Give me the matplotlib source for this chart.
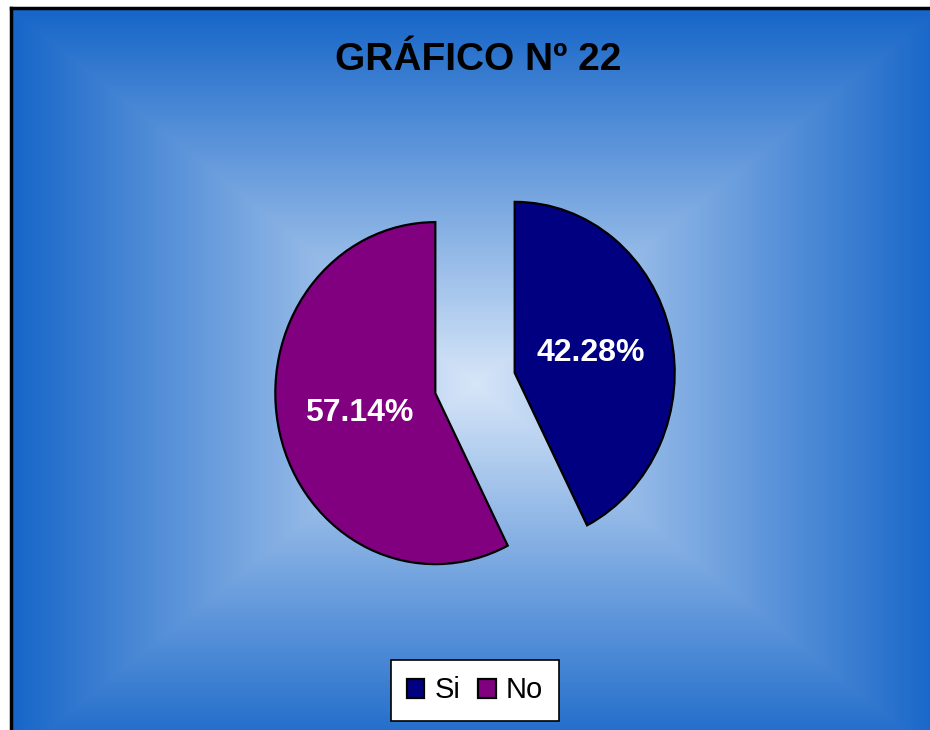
import matplotlib
matplotlib.use('Agg')
import matplotlib.pyplot as plt
import numpy as np

# Données du graphique
categorias = ['Si', 'No']
valores = [42.28, 57.14]
etiquetas = ['42.28%', '57.14%']
colores = ['#000080', '#800080']
titulo = 'GRÁFICO Nº 22'

plt.rcParams['font.family'] = ['Liberation Sans', 'DejaVu Sans']

W, H = 930, 730
fig = plt.figure(figsize=(W / 100, H / 100), dpi=100)
fig.patch.set_facecolor('white')

# Fond en dégradé rectangulaire (clair au centre, bleu sur les bords)
ax_bg = fig.add_axes([11 / W, 0, 1 - 11 / W, (H - 8) / H])
ax_bg.set_axis_off()
xs = np.arange(11, W) + 0.5
ys = np.arange(8, H) + 0.5
X, Y = np.meshgrid(xs, ys)
cx, cy, hw, hh = 475, 384, 465, 376
t = np.clip(np.maximum(np.abs(X - cx) / hw, np.abs(Y - cy) / hh), 0, 1)
c0 = np.array([215, 230, 248]) / 255
c1 = np.array([21, 101, 200]) / 255
img = c0 + (c1 - c0) * t[..., None]
ax_bg.imshow(img, aspect='auto', extent=[0, 1, 0, 1], origin='upper')
ax_bg.set_xlim(0, 1)
ax_bg.set_ylim(0, 1)
# Bordure noire gauche et haut
fig.add_artist(plt.Line2D([11 / W, 11 / W], [0, (H - 8) / H], color='black', lw=2.5, transform=fig.transFigure))
fig.add_artist(plt.Line2D([11 / W, 1], [(H - 8) / H, (H - 8) / H], color='black', lw=2.5, transform=fig.transFigure))

# Titre
fig.text(478 / W, 1 - 60 / H, titulo, ha='center', va='center', fontsize=28, fontweight='bold', color='black')

# Camembert (légèrement elliptique comme dans l'original)
RX, RY = 160, 171
L = 250
ax = fig.add_axes([(475 - L) / W, (H - 383 - L) / H, 2 * L / W, 2 * L / H])
wedges, textos = ax.pie(valores, colors=colores, startangle=90, counterclock=False,
                        explode=[0.255, 0.255], labels=etiquetas, labeldistance=0.49,
                        wedgeprops=dict(edgecolor='black', linewidth=1.6),
                        textprops=dict(color='white', fontsize=23, fontweight='bold'))
for txt in textos:
    txt.set_ha('center')
    txt.set_va('center')
ax.set_aspect('auto')
ax.set_xlim(-L / RX, L / RX)
ax.set_ylim(-L / RY, L / RY)
ax.set_axis_off()

# Légende
leg = fig.legend(wedges, categorias, loc='center', bbox_to_anchor=(475 / W, 1 - 690.5 / H),
                 ncol=2, fontsize=21, frameon=True, fancybox=False, shadow=False,
                 handlelength=0.6, handleheight=0.65, handletextpad=0.35, columnspacing=0.6,
                 borderpad=0.55, borderaxespad=0)
leg.get_frame().set_edgecolor('black')
leg.get_frame().set_linewidth(1.2)
leg.get_frame().set_facecolor('white')
leg.get_frame().set_alpha(1)

fig.savefig('out.png', dpi=100)
